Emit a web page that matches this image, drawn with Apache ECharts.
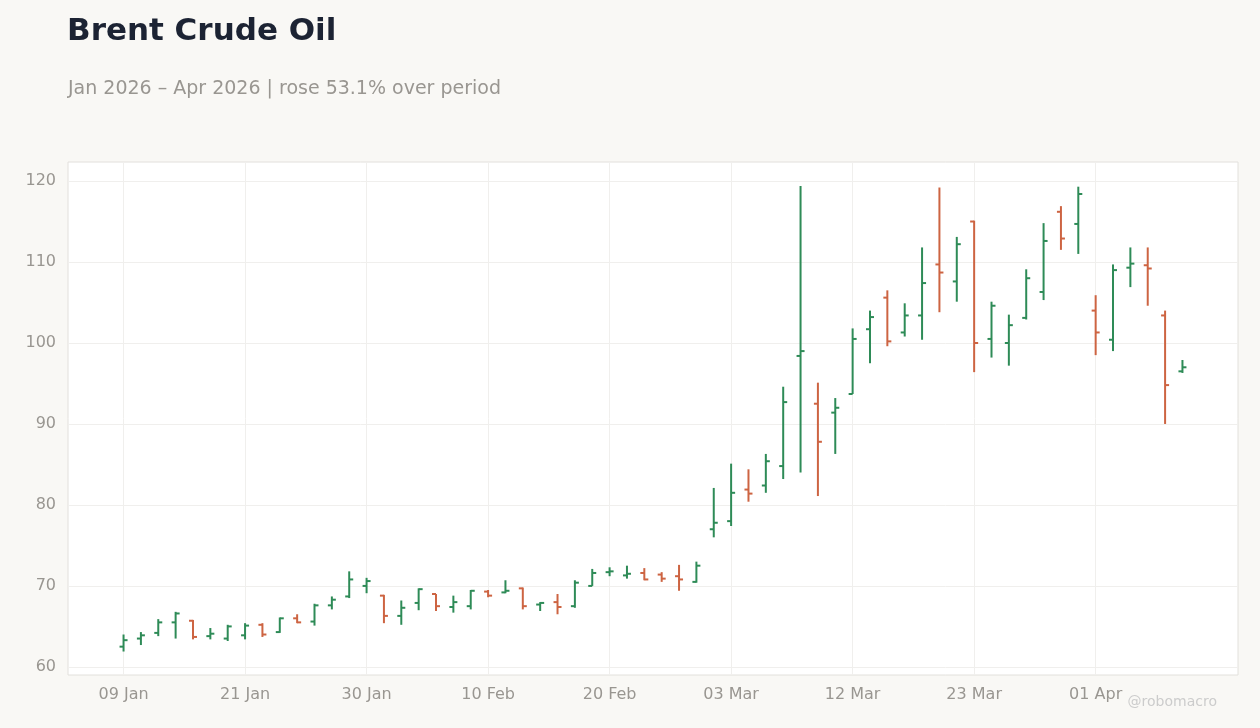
<!DOCTYPE html>
<html>
<head>
<meta charset="utf-8">
<script src="https://cdn.jsdelivr.net/npm/echarts@6/dist/echarts.min.js"></script>
<style>
  html, body { margin: 0; padding: 0; background: #f9f8f5; }
  #main { width: 1260px; height: 728px; }
</style>
</head>
<body>
<div id="main"></div>
<script>
var chartDom = document.getElementById('main');
var myChart = echarts.init(chartDom);

// trading days, 09 Jan 2026 – Apr 2026
const dates = [
  '09 Jan', '12 Jan', '13 Jan', '14 Jan', '15 Jan', '16 Jan', '20 Jan', '21 Jan', '22 Jan', '23 Jan',
  '26 Jan', '27 Jan', '28 Jan', '29 Jan', '30 Jan', '02 Feb', '03 Feb', '04 Feb', '05 Feb', '06 Feb',
  '09 Feb', '10 Feb', '11 Feb', '12 Feb', '13 Feb', '17 Feb', '18 Feb', '19 Feb', '20 Feb', '23 Feb',
  '24 Feb', '25 Feb', '26 Feb', '27 Feb', '02 Mar', '03 Mar', '04 Mar', '05 Mar', '06 Mar', '09 Mar',
  '10 Mar', '11 Mar', '12 Mar', '13 Mar', '16 Mar', '17 Mar', '18 Mar', '19 Mar', '20 Mar', '23 Mar',
  '24 Mar', '25 Mar', '26 Mar', '27 Mar', '30 Mar', '31 Mar', '01 Apr', '02 Apr', '06 Apr', '07 Apr',
  '08 Apr', '09 Apr'
];
const open = [
  62.5, 63.5, 64.2, 65.5, 65.7, 63.8, 63.5, 63.9, 65.2, 64.3,
  66.0, 65.6, 67.6, 68.7, 70.0, 68.8, 66.3, 67.9, 69.0, 67.4,
  67.5, 69.3, 69.2, 69.7, 67.7, 68.0, 67.5, 70.0, 71.7, 71.3,
  71.6, 71.4, 71.2, 70.5, 77.0, 78.0, 81.9, 82.4, 84.8, 98.4,
  92.5, 91.4, 93.7, 101.7, 105.6, 101.3, 103.4, 109.7, 107.6, 115.0,
  100.5, 100.0, 103.1, 106.3, 116.2, 114.7, 104.0, 100.4, 109.3, 109.6,
  103.4, 96.5
];
const high = [
  64.0, 64.3, 65.9, 66.8, 65.8, 64.8, 65.2, 65.4, 65.4, 66.1,
  66.5, 67.8, 68.7, 71.8, 71.0, 68.9, 68.2, 69.7, 69.0, 68.8,
  69.5, 69.5, 70.7, 69.8, 68.0, 69.0, 70.7, 72.1, 72.3, 72.5,
  72.2, 71.7, 72.6, 73.0, 82.1, 85.1, 84.4, 86.3, 94.6, 119.4,
  95.1, 93.2, 101.8, 104.0, 106.5, 104.9, 111.8, 119.2, 113.1, 115.1,
  105.1, 103.5, 109.1, 114.8, 116.9, 119.3, 105.9, 109.7, 111.8, 111.8,
  104.0, 97.9
];
const low = [
  61.9, 62.7, 63.8, 63.5, 63.4, 63.4, 63.2, 63.4, 63.7, 64.2,
  65.4, 65.1, 67.1, 68.5, 69.1, 65.4, 65.2, 67.0, 66.9, 66.7,
  67.1, 68.6, 69.1, 67.1, 66.9, 66.5, 67.3, 70.0, 71.2, 70.9,
  70.7, 70.5, 69.4, 70.4, 76.0, 77.4, 80.4, 81.5, 83.2, 84.0,
  81.1, 86.3, 93.7, 97.5, 99.6, 100.8, 100.4, 103.8, 105.1, 96.4,
  98.2, 97.2, 102.9, 105.3, 111.5, 111.0, 98.5, 99.0, 106.9, 104.6,
  90.0, 96.3
];
const close = [
  63.3, 63.9, 65.5, 66.6, 63.7, 64.1, 65.0, 65.1, 64.0, 66.0,
  65.5, 67.6, 68.3, 70.8, 70.6, 66.3, 67.3, 69.6, 67.5, 68.0,
  69.4, 68.8, 69.4, 67.5, 67.9, 67.4, 70.4, 71.6, 71.8, 71.5,
  70.8, 70.9, 70.8, 72.5, 77.8, 81.5, 81.4, 85.4, 92.7, 99.0,
  87.8, 92.0, 100.5, 103.2, 100.2, 103.4, 107.4, 108.7, 112.2, 100.0,
  104.6, 102.2, 108.0, 112.6, 112.9, 118.4, 101.3, 109.0, 109.8, 109.2,
  94.8, 97.0
];
const labelIdx = [0, 7, 14, 21, 28, 35, 42, 49, 56];
const yTicks = [60, 70, 80, 90, 100, 110, 120];

const UP = '#2e8b57';
const DOWN = '#cd6442';
const FONT = 'DejaVu Sans';

const ohlc = dates.map((d, i) => [i, open[i], high[i], low[i], close[i]]);

function renderItem(params, api) {
  const i = api.value(0);
  const o = api.coord([i, api.value(1)]);
  const h = api.coord([i, api.value(2)]);
  const l = api.coord([i, api.value(3)]);
  const c = api.coord([i, api.value(4)]);
  const color = api.value(4) >= api.value(1) ? UP : DOWN;
  const style = { stroke: color, lineWidth: 2 };
  const w = 4;
  return {
    type: 'group',
    children: [
      { type: 'line', shape: { x1: h[0], y1: h[1], x2: l[0], y2: l[1] }, style: style },
      { type: 'line', shape: { x1: o[0] - w, y1: o[1], x2: o[0], y2: o[1] }, style: style },
      { type: 'line', shape: { x1: c[0], y1: c[1], x2: c[0] + w, y2: c[1] }, style: style }
    ]
  };
}

const option = {
  backgroundColor: '#f9f8f5',
  title: [
    {
      text: 'Brent Crude Oil',
      left: 62, top: 11,
      textStyle: { fontFamily: FONT, fontSize: 31, fontWeight: 'bold', color: '#1c2333' }
    },
    {
      text: 'Jan 2026 – Apr 2026 | rose 53.1% over period',
      left: 63, top: 75,
      textStyle: { fontFamily: FONT, fontSize: 19, fontWeight: 'normal', color: '#999691' }
    },
    {
      text: '@robomacro',
      right: 38, bottom: 14,
      textStyle: { fontFamily: FONT, fontSize: 14, fontWeight: 'normal', color: '#cccccc' }
    }
  ],
  grid: {
    left: 68, right: 22, top: 162, bottom: 53,
    show: true, backgroundColor: '#ffffff', borderColor: '#e2e0dc', borderWidth: 1
  },
  xAxis: {
    type: 'value',
    min: -3.2, max: 64.2,
    axisLine: { show: false },
    axisTick: { show: false, customValues: labelIdx },
    axisLabel: {
      customValues: labelIdx,
      formatter: v => dates[v] || '',
      color: '#999691', fontFamily: FONT, fontSize: 16, margin: 12
    },
    splitLine: { show: true, lineStyle: { color: '#f0efed' } }
  },
  yAxis: {
    type: 'value',
    min: 59.0, max: 122.35,
    axisLine: { show: false },
    axisTick: { show: false, customValues: yTicks },
    axisLabel: {
      customValues: yTicks,
      color: '#999691', fontFamily: FONT, fontSize: 16, margin: 12
    },
    splitLine: { show: true, lineStyle: { color: '#f0efed' } }
  },
  series: [
    {
      type: 'custom',
      renderItem: renderItem,
      data: ohlc,
      encode: { x: 0, y: [1, 2, 3, 4] },
      animation: false
    }
  ]
};

option && myChart.setOption(option);
</script>
</body>
</html>
